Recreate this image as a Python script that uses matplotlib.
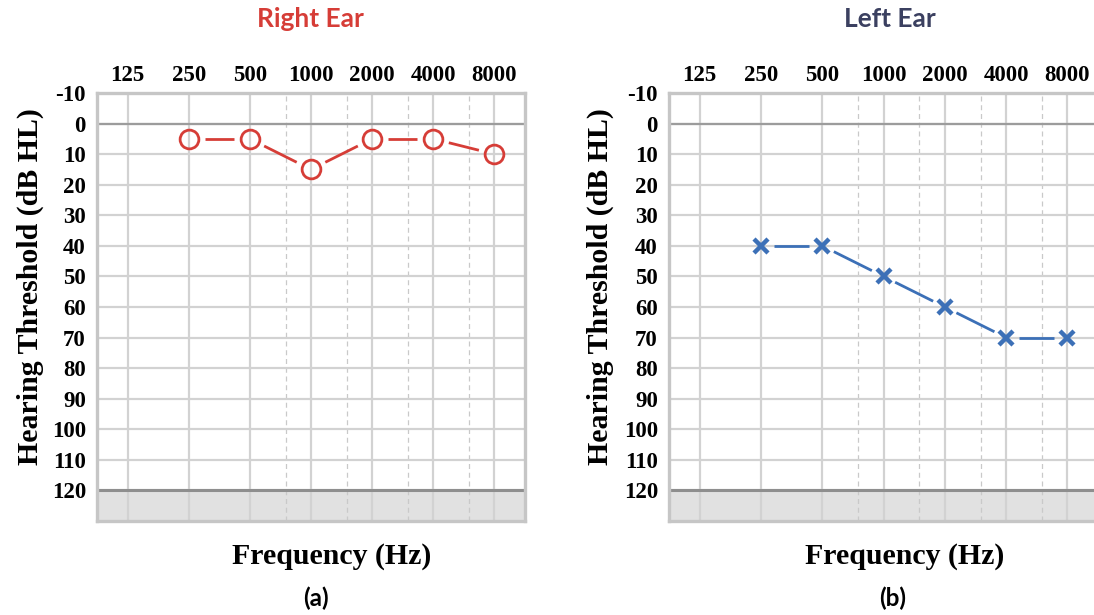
import numpy as np
import matplotlib
matplotlib.use("Agg")
import matplotlib.pyplot as plt

# audiogram frequencies (Hz) and hearing thresholds (dB HL)
freq_labels = [125, 250, 500, 1000, 2000, 4000, 8000]
half_octaves = [750, 1500, 3000, 6000]
db_ticks = list(range(-10, 130, 10))

test_freqs = [250, 500, 1000, 2000, 4000, 8000]
right_db = [5, 5, 15, 5, 5, 10]
left_db = [40, 40, 50, 60, 70, 70]

RED = "#d63d37"
BLUE = "#3c70b7"
GRID = "#d2d2d2"
SERIF = "Liberation Serif"
SANS = "Lato"

W, H = 1094, 615

tick_font = dict(fontfamily=SERIF, fontweight="bold", fontsize=16.5)


def octave(f):
    return np.log2(np.asarray(f, dtype=float) / 125.0)


def gapped_line(ax, xs, ys, color, gap_px, lw):
    # connect the symbols without letting the line touch them
    pts = ax.transData.transform(np.column_stack([xs, ys]))
    inv = ax.transData.inverted()
    for p0, p1 in zip(pts[:-1], pts[1:]):
        d = p1 - p0
        n = np.hypot(*d)
        u = d / n
        a = inv.transform(p0 + u * gap_px)
        b = inv.transform(p1 - u * gap_px)
        ax.plot([a[0], b[0]], [a[1], b[1]], color=color, lw=lw,
                solid_capstyle="butt", zorder=3)


def setup_audiogram(ax):
    ax.set_xlim(-0.5, 6.5)
    ax.set_ylim(130, -10)
    ax.set_xticks(octave(freq_labels), labels=[str(f) for f in freq_labels],
                  **tick_font)
    ax.set_xticks(octave(half_octaves), minor=True)
    ax.set_yticks(db_ticks, labels=[str(d) for d in db_ticks], **tick_font)
    ax.xaxis.tick_top()
    ax.tick_params(axis="both", which="both", length=0)
    ax.tick_params(axis="x", pad=5)
    ax.tick_params(axis="y", pad=8)
    ax.grid(True, which="major", color=GRID, lw=1.6, zorder=0)
    ax.grid(True, which="minor", axis="x", color="#c9c9c9", lw=0.9,
            ls=(0, (4, 3)), zorder=0)
    ax.set_axisbelow(True)
    ax.axhspan(120, 130, color="#e1e1e1", zorder=0.5, lw=0)
    ax.axhline(0, color="#9c9c9c", lw=1.6, zorder=1)
    ax.axhline(120, color="#8e8e8e", lw=2.2, zorder=1)
    for s in ax.spines.values():
        s.set_color("#c6c6c6")
        s.set_linewidth(2.4)
    ax.set_ylabel("Hearing Threshold (dB HL)", fontfamily=SERIF,
                  fontweight="bold", fontsize=21.5)


fig = plt.figure(figsize=(W / 100, H / 100), dpi=100)
fig.patch.set_facecolor("white")

ax_r = fig.add_axes([97 / W, 1 - 521 / H, 428 / W, 428 / H])
ax_l = fig.add_axes([669 / W, 1 - 521 / H, 429 / W, 428 / H])

setup_audiogram(ax_r)
setup_audiogram(ax_l)
ax_r.yaxis.set_label_coords(-0.124, 0.547)
ax_l.yaxis.set_label_coords(-0.128, 0.547)

# right ear: circles
x = octave(test_freqs)
gapped_line(ax_r, x, right_db, RED, 16, 2.0)
ax_r.plot(x, right_db, ls="none", marker="o", ms=13.5, mfc="none",
          mec=RED, mew=2.0, zorder=4)

# left ear: crosses
gapped_line(ax_l, x, left_db, BLUE, 13, 2.0)
ax_l.plot(x, left_db, ls="none", marker="x", ms=10.5, mec=BLUE,
          mew=3.2, zorder=4)

# titles, axis captions and panel letters
fig.text(310 / W, 1 - 19 / H, "Right Ear", color=RED, fontfamily=SANS,
         fontweight="bold", fontsize=19, ha="center", va="center")
fig.text(890 / W, 1 - 19 / H, "Left Ear", color="#3b4060", fontfamily=SANS,
         fontweight="bold", fontsize=19, ha="center", va="center")
for cx, cap_x, letter in [(332, 316, "(a)"), (905, 893, "(b)")]:
    fig.text(cx / W, 1 - 557 / H, "Frequency (Hz)", fontfamily=SERIF,
             fontweight="bold", fontsize=21.5, ha="center", va="center")
    fig.text(cap_x / W, 1 - 598 / H, letter, fontfamily=SANS,
             fontweight="bold", fontsize=17.5, ha="center", va="center")

fig.savefig("out.png", dpi=100)
